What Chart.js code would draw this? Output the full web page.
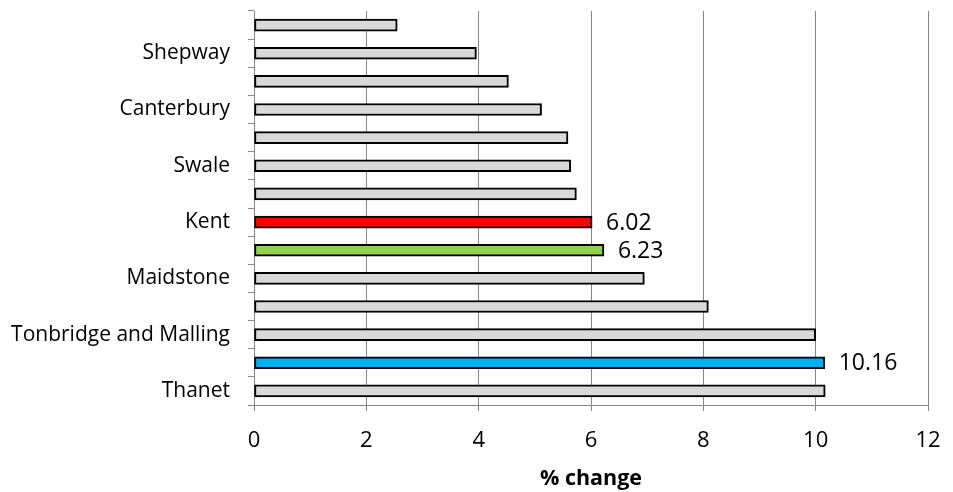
<!DOCTYPE html>
<html>
<head>
<meta charset="utf-8">
<script src="https://cdn.jsdelivr.net/npm/chart.js@4/dist/chart.umd.min.js"></script>
<style>
  html, body { margin: 0; padding: 0; background: #fff; }
  #wrap { width: 953px; height: 492px; }
</style>
</head>
<body>
<div id="wrap"><canvas id="chart" width="953" height="492"></canvas></div>
<script>
// ─── DATA ────────────────────────────────────────────────────────────────────
// only every other district is named on the axis in the original
const CATEGORIES = ['', 'Shepway', '', 'Canterbury', '', 'Swale', '', 'Kent',
                    '', 'Maidstone', '', 'Tonbridge and Malling', '', 'Thanet'];
const VALUES = [2.55, 3.96, 4.53, 5.12, 5.59, 5.64, 5.74, 6.02,
                6.23, 6.95, 8.09, 10.00, 10.16, 10.17];
const HIGHLIGHT = { 7: '#ff0000', 8: '#92d050', 12: '#00b0f0' };
const LABELLED = [7, 8, 12];
const X_TICKS = [0, 2, 4, 6, 8, 10, 12];
const X_TITLE = '% change';

// ─── STYLE ───────────────────────────────────────────────────────────────────
const FONT = "'Open Sans', 'DejaVu Sans', sans-serif";
const AXIS_GREY = '#868686';
const BAR_GREY = '#d9d9d9';

Chart.defaults.font.family = FONT;
Chart.defaults.color = '#000';

// value labels next to the highlighted bars
const valueLabels = {
  id: 'valueLabels',
  afterDatasetsDraw(chart) {
    const ctx = chart.ctx;
    const meta = chart.getDatasetMeta(0);
    ctx.save();
    ctx.font = `23px ${FONT}`;
    ctx.fillStyle = '#000';
    ctx.textAlign = 'left';
    ctx.textBaseline = 'middle';
    LABELLED.forEach(i => {
      const bar = meta.data[i];
      ctx.fillText(VALUES[i].toFixed(2), bar.x + 14, bar.y + 1);
    });
    ctx.restore();
  }
};

const colors = VALUES.map((v, i) => HIGHLIGHT[i] || BAR_GREY);

new Chart(document.getElementById('chart'), {
  type: 'bar',
  data: {
    labels: CATEGORIES,
    datasets: [{
      data: VALUES,
      backgroundColor: colors,
      borderColor: '#000',
      borderWidth: 2,
      borderSkipped: false,
      barThickness: 12,
    }]
  },
  options: {
    indexAxis: 'y',
    responsive: false,
    animation: false,
    layout: { padding: { top: 11, right: 25, left: 0, bottom: 0 } },
    plugins: {
      legend: { display: false },
      tooltip: { enabled: false },
    },
    scales: {
      x: {
        min: 0,
        max: 12,
        afterBuildTicks: scale => { scale.ticks = X_TICKS.map(v => ({ value: v })); },
        afterFit: scale => {
          scale.height = 87;
          scale.paddingLeft = 0;
          scale.paddingRight = 0;
        },
        grid: { color: AXIS_GREY, lineWidth: 1, tickLength: 6 },
        border: { color: AXIS_GREY, width: 1 },
        ticks: { font: { size: 22 }, padding: 17, color: '#000' },
        title: {
          display: true,
          text: X_TITLE,
          font: { size: 21.5, weight: 'bold', lineHeight: 1 },
          padding: { top: 0, bottom: 2 },
          color: '#000',
        }
      },
      y: {
        afterFit: scale => {
          scale.width = 254;
          scale.paddingTop = 0;
          scale.paddingBottom = 0;
        },
        grid: { offset: true, drawOnChartArea: false, color: AXIS_GREY, tickLength: 6 },
        border: { color: AXIS_GREY, width: 1 },
        ticks: { autoSkip: false, font: { size: 21 }, padding: 18, color: '#000' },
      }
    }
  },
  plugins: [valueLabels]
});
</script>
</body>
</html>
